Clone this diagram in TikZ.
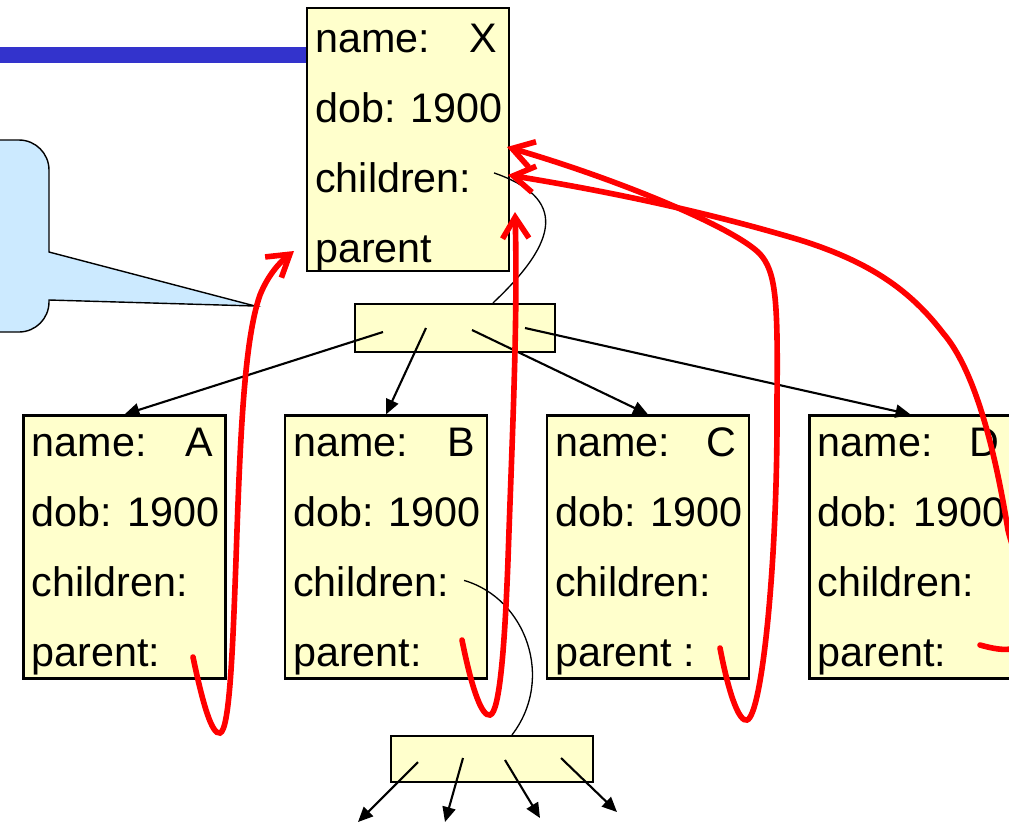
\documentclass[tikz,border=0pt]{standalone}
\usepackage{fontspec}
\setmainfont{Liberation Sans}
\usetikzlibrary{calc, arrows.meta}

\definecolor{memo}{HTML}{FFFFCC}
\definecolor{note}{HTML}{CCEAFF}
\definecolor{band}{HTML}{3333CC}

\begin{document}
\begin{tikzpicture}[x=0.02cm, y=-0.02cm,
    every node/.style={font=\fontsize{23.5}{28}\selectfont, inner sep=0pt},
    record/.style={draw, fill=memo, line width=1.25pt, minimum width=4.04cm, minimum height=5.26cm},
    list/.style={draw, fill=memo, line width=1.25pt, minimum width=4cm, minimum height=0.96cm},
    link/.style={line width=1.2pt, -{Triangle[length=8.5pt, width=7.5pt]}},
    wire/.style={line width=0.75pt},
    ref/.style={red, line width=3.2pt, line cap=round, -{Straight Barb[length=12pt, width=15pt]}}]

    \useasboundingbox (0,0) rectangle (1009,823);
    \clip (0,0) rectangle (1009,823);

    % Speech bubble coming in from the left edge
    \draw[fill=note, line width=0.8pt] (-40,140) -- (19,140)
        arc[start angle=90, end angle=0, radius=0.6cm] -- (49,252) -- (255,306) -- (49,300) -- (49,302)
        arc[start angle=0, end angle=-90, radius=0.6cm] -- (-40,332) -- cycle;

    % The parent record
    \node[record] (X) at (408,139.5) {};
    \foreach \row/\txt in {1/name:, 2/dob: 1900, 3/children:, 4/parent}
        \node[anchor=base west] (X-\row) at ($(X.north west)+(9,-24+70*\row)$) {\txt};
    \node[anchor=base east] (X-val) at ($(X.north east)+(-13,46)$) {X};

    % Thick blue band running into the parent
    \coordinate (band) at (-20,55);
    \draw[band, line width=9pt] (band) -- (band -| X.west);

    % The four child records
    \foreach \n/\cx/\plab in {A/124.5/parent:, B/386/parent:, C/648/parent :, D/910.5/parent:} {
        \node[record] (\n) at (\cx,547) {};
        \foreach \row/\txt in {1/name:, 2/dob: 1900, 3/children:, 4/\plab}
            \node[anchor=base west] (\n-\row) at ($(\n.north west)+(9,-28+70*\row)$) {\txt};
        \node[anchor=base east] (\n-val) at ($(\n.north east)+(-13,42)$) {\n};
    }

    % Children lists
    \node[list] (kids) at (455,328) {};
    \node[list, minimum width=4.04cm, minimum height=0.92cm] (grandkids) at (492,759) {};

    \draw[wire] ($(X.north east)+(-16,166)$) .. controls +(72,25) and +(67,-63) .. ($(kids.north)+(38,0)$);
    \draw[wire] ($(B.north east)+(-24,166)$) .. controls +(62,18) and +(43,-56) .. ($(grandkids.north)+(20,0)$);

    \foreach \n/\dx/\dy in {A/-72/4, B/-29/0, C/17/2, D/70/0}
        \draw[link] ($(kids.center)+(\dx,\dy)$) -- (\n.north);

    \foreach \i/\sx/\sy/\ex/\ey in {1/-74/3/-134/63, 2/-29/-1/-47/63, 3/13/1/48/59, 4/69/-1/125/53} {
        \coordinate (gk-\i) at ($(grandkids.center)+(\ex,\ey)$);
        \draw[link] ($(grandkids.center)+(\sx,\sy)$) -- (gk-\i);
    }

    % Parent pointers back up to X
    \coordinate (pA) at (193,657);
    \coordinate (pB) at (462,640);
    \coordinate (pC) at (720,648);
    \coordinate (pD) at (980,645);
    \coordinate (xA) at (294,251);
    \coordinate (xB) at (515,212);
    \coordinate (xC) at (507,147);
    \coordinate (xD) at (508,175);

    \draw[ref] (pA) .. controls (203,705) and (212,735) .. (220,733)
        .. controls (230,731) and (233,640) .. (236,560)
        .. controls (240,440) and (244,340) .. (260,295)
        .. controls (268,275) and (280,262) .. (xA);
    \draw[ref] (pB) .. controls (472,690) and (482,717) .. (490,715)
        .. controls (500,713) and (505,640) .. (508,560)
        .. controls (512,440) and (518,320) .. (xB);
    \draw[ref] (pC) .. controls (730,700) and (740,722) .. (747,720)
        .. controls (762,716) and (778,560) .. (777,400)
        .. controls (778,300) and (776,272) .. (760,254)
        .. controls (735,228) and (620,180) .. (xC);
    \draw[ref] (pD) .. controls (1005,652) and (1030,655) .. (1030,620)
        .. controls (1030,580) and (1015,560) .. (1008,530)
        .. controls (995,450) and (975,370) .. (943,333)
        .. controls (910,290) and (870,262) .. (800,240)
        .. controls (700,210) and (600,190) .. (xD);
\end{tikzpicture}
\end{document}
